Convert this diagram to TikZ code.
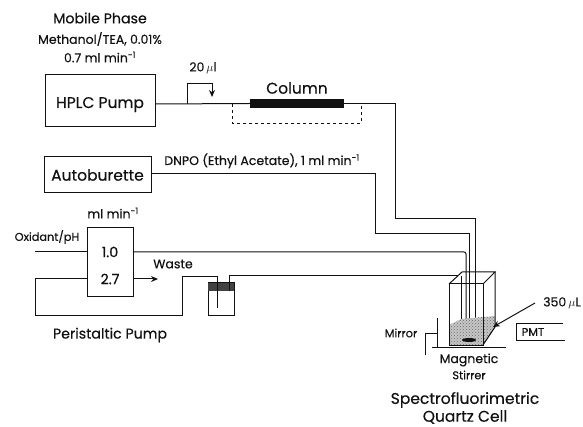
\documentclass[tikz,border=0pt]{standalone}
\usepackage{amsmath}
\usepackage{fontspec}
\usepackage{tikz}
\usetikzlibrary{arrows.meta,calc,patterns,positioning}
\newfontfamily\labelfont[FakeBold=0.4]{Poppins}
\definecolor{CellInk}{HTML}{111111}
\definecolor{CellLiquid}{HTML}{6A6A6A}
\tikzset{every node/.style={font=\labelfont\fontsize{12.5}{14}\selectfont,text=CellInk,inner sep=0pt},
  unitbox/.style={draw=CellInk,line width=1pt,fill=white},
  tube/.style={draw=CellInk,line width=1pt},
  unittext/.style={font=\labelfont\fontsize{15.5}{18}\selectfont},
  nametext/.style={font=\labelfont\fontsize{14.2}{17}\selectfont},
  smalltext/.style={font=\labelfont\fontsize{11.3}{13}\selectfont},
  flowtip/.style={-{Stealth[length=7pt,width=6pt]}}}

\begin{document}
\begin{tikzpicture}[x=1pt,y=-1pt]
  \useasboundingbox (0,0) rectangle (583,427);
  % --- mobile phase labels ---
  \node[nametext] (mobilephase) at (100,18) {Mobile Phase};
  \node (methanol) at (100,39) {Methanol/TEA, 0.01\%};
  \node (mobileflow) at (100,57) {0.7 ml min\textsuperscript{-1}};
  % --- units on the left ---
  \node[unitbox,unittext,minimum width=110pt,minimum height=52pt,text height=18pt,text depth=4pt] (hplcpump) at (100,101) {HPLC Pump};
  \node[unitbox,unittext,minimum width=107pt,minimum height=36pt] (autoburette) at (97.5,175) {Autoburette};
  \node[unitbox,minimum width=46pt,minimum height=69pt] (peristaltic) at (110,262.5) {};
  \node[nametext] (rateone) at (110,252) {1.0};
  \node[nametext] (ratetwo) at (110,279) {2.7};
  \node (peristalticunit) at (113,213) {ml min\textsuperscript{-1}};
  \node[smalltext] (oxidant) at (47,237) {Oxidant/pH};
  \node[nametext] (peristalticname) at (110,335) {Peristaltic Pump};
  % --- column ---
  \node[fill=CellInk,minimum width=94pt,minimum height=9pt] (column) at (297,103.5) {};
  \node[unittext] (columnname) at (297,88) {Column};
  \node (injection) at (203,68) {20\,$\mu$l};
  \coordinate (loopa) at (187,104);
  \coordinate (loopb) at (187,84);
  \coordinate (loopc) at (212,84);
  \coordinate (loopd) at (212,97);
  \draw[tube] (hplcpump.east|-loopa) -- (column.west);
  \draw[tube,flowtip] (loopa) -- (loopb) -- (loopc) -- (loopd);
  % --- bypass under the column ---
  \coordinate (bypassa) at (232,104);
  \coordinate (bypassb) at (232,123);
  \coordinate (bypassc) at (361,123);
  \coordinate (bypassd) at (361,104);
  \draw[tube,dashed,line width=0.7pt] (bypassa) -- (bypassb) -- (bypassc) -- (bypassd);
  % --- three lines into the cell ---
  \coordinate (eluenta) at (395,103.5);
  \coordinate (eluentb) at (395,219);
  \coordinate (eluentc) at (475,219);
  \coordinate (eluentd) at (475,335);
  \draw[tube] (column.east) -- (eluenta) -- (eluentb) -- (eluentc) -- (eluentd);
  \node[anchor=base] (dnpo) at (262,165) {DNPO (Ethyl Acetate), 1 ml min\textsuperscript{-1}};
  \coordinate (dnpoa) at (375,174);
  \coordinate (dnpob) at (375,234);
  \coordinate (dnpoc) at (469,234);
  \coordinate (dnpod) at (469,335);
  \draw[tube] (autoburette.east|-dnpoa) -- (dnpoa) -- (dnpob) -- (dnpoc) -- (dnpod);
  \coordinate (oxidantin) at (35,252);
  \coordinate (oxidantb) at (466,252);
  \coordinate (oxidantc) at (466,335);
  \draw[tube] (oxidantin) -- (peristaltic.west|-oxidantin);
  \draw[tube,rounded corners=2pt] (peristaltic.east|-oxidantin) -- (oxidantb) -- (oxidantc);
  % --- recycle loop and waste vessel ---
  \node[unitbox,minimum width=26pt,minimum height=32pt] (vessel) at (221,299) {};
  \node[fill=CellInk!80,minimum width=26pt,minimum height=8pt] (vessellid) at (221,287) {};
  \coordinate (recyclea) at (35,279);
  \coordinate (recycleb) at (35,315);
  \coordinate (recyclec) at (182,315);
  \coordinate (recycled) at (182,277);
  \coordinate (recyclee) at (217,277);
  \coordinate (recyclef) at (217,308);
  \draw[tube] (peristaltic.west|-recyclea) -- (recyclea) -- (recycleb) -- (recyclec) -- (recycled) -- (recyclee) -- (recyclef);
  \coordinate (wastetip) at (158,279);
  \draw[tube,flowtip] (peristaltic.east|-wastetip) -- (wastetip);
  \node (waste) at (173,264) {Waste};
  \coordinate (ventin) at (229,291);
  \coordinate (venta) at (229,276);
  \coordinate (ventb) at (458,276);
  \coordinate (ventc) at (461,276);
  \coordinate (ventd) at (461,328);
  \draw[tube] (ventin) -- (venta) -- (ventb);
  \draw[tube] (ventc) -- (ventd);
  % --- quartz cell ---
  \coordinate (cella) at (449,284);
  \coordinate (cellb) at (483,284);
  \coordinate (cellc) at (483,345);
  \coordinate (celld) at (449,345);
  \coordinate (celle) at (462,272);
  \coordinate (cellf) at (495,272);
  \coordinate (cellg) at (495,327);
  \fill[black!22] (449,325) -- (461,319) -- (495,316) -- (cellg) -- (cellc) -- (celld) -- cycle;
  \fill[pattern=crosshatch dots,pattern color=CellLiquid] (449,325) -- (461,319) -- (495,316) -- (cellg) -- (cellc) -- (celld) -- cycle;
  \draw[tube] (cella) -- (cellb) -- (cellc) -- (celld) -- cycle;
  \draw[tube] (cella) -- (celle) -- (cellf) -- (cellb);
  \draw[tube] (cellf) -- (cellg) -- (cellc);
  \fill[CellInk] (469,340) ellipse (7pt and 2pt);
  \coordinate (basea) at (432,347);
  \coordinate (baseb) at (506,347);
  \draw[tube] (basea) -- (baseb);
  % --- mirror ---
  \node[smalltext] (mirror) at (401,333) {Mirror};
  \coordinate (mirrora) at (437,318);
  \coordinate (mirrorb) at (437,347);
  \coordinate (mirrorc) at (425,333);
  \coordinate (mirrord) at (425,355);
  \draw[tube] (mirrora) -- (mirrorb);
  \draw[tube] (mirrord) -- (mirrorc) -- (mirrorc-|mirrora);
  % --- PMT and volume ---
  \node[anchor=west] (volume) at (543,303) {350\,$\mu$L};
  \coordinate (volumetip) at (493,327);
  \draw[tube,flowtip] (volume.west) ++(-8,0) -- (volumetip);
  \coordinate (pmta) at (563,323);
  \coordinate (pmtb) at (516,323);
  \coordinate (pmtc) at (516,340);
  \coordinate (pmtd) at (565,340);
  \draw[tube] (pmta) -- (pmtb) -- (pmtc) -- (pmtd);
  \node[smalltext] (pmt) at (533,332) {PMT};
  % --- cell labels ---
  \node (magnetic) at (469,360) {Magnetic};
  \node[smalltext] (stirrer) at (469,375) {Stirrer};
  \node[unittext] (cellname) at (465,400) {Spectrofluorimetric};
  \node[unittext] (cellnametwo) at (465,417) {Quartz Cell};
\end{tikzpicture}
\end{document}
